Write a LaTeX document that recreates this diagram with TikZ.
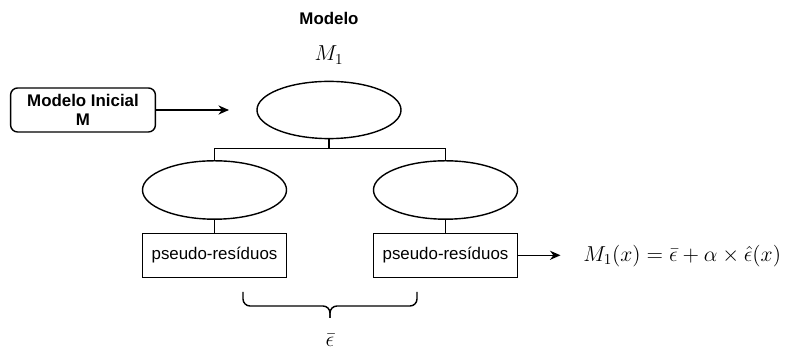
\RequirePackage{fix-cm}
\documentclass[tikz,border=0pt]{standalone}
\usepackage{fontspec}
\setmainfont{Liberation Sans}
\usetikzlibrary{arrows.meta, shapes.geometric, positioning, calc}
\tikzset{
  elipse/.style={draw, ellipse, line width=1pt, minimum width=3.6cm, minimum height=1.43cm},
  caixa/.style={draw, rectangle, line width=1pt, minimum width=3.6cm, minimum height=1.1cm, font=\fontsize{12}{14}\selectfont},
  seta/.style={line width=1pt, -{Stealth[length=7.5pt, width=6.5pt]}},
  liga/.style={line width=1pt},
  mat/.style={font=\fontsize{15.4}{18}\selectfont},
}

\begin{document}
\begin{tikzpicture}[x=0.025cm, y=-0.025cm]
  \useasboundingbox (0,0) rectangle (785,352);

  % titulo e modelo M_1
  \node[font=\fontsize{12}{14}\selectfont\bfseries] (titulo) at (329,18) {Modelo};
  \node[mat] (nome) at (329,55) {$M_1$};

  % modelo inicial
  \node[caixa, rounded corners=5pt, minimum width=3.62cm, align=center, font=\fontsize{12}{14}\selectfont\bfseries] (ini) at (83,110) {Modelo Inicial\\M};
  \coordinate (alvo) at (229,110);
  \draw[seta] (ini) -- (alvo);

  % arvore
  \node[elipse] (m1) at (329,110) {};
  \node[elipse, minimum height=1.46cm] (esq) at (214.5,190) {};
  \node[elipse, minimum height=1.46cm] (dir) at (445.5,190) {};
  \draw[liga] (m1.south) -- ++(0,9) -| (esq.north);
  \draw[liga] (m1.south) -- ++(0,9) -| (dir.north);

  % pseudo-residuos
  \node[caixa] (res1) at (214.5,255.3) {pseudo-resíduos};
  \node[caixa] (res2) at (445.5,255.3) {pseudo-resíduos};
  \draw[liga] (esq) -- (res1);
  \draw[liga] (dir) -- (res2);

  % formula final
  \node[mat, inner sep=0pt, anchor=west] (formula) at (583,256) {$M_1(x) = \bar{\epsilon} + \alpha \times \hat{\epsilon}(x)$};
  \draw[seta, shorten >=16pt] (res2.east) -- (res2.east -| formula.west);

  % chave com a media
  \coordinate (ch1) at (243,292);
  \coordinate (ch2) at (417,292);
  \coordinate (ponta) at (330,318);
  \draw[liga, rounded corners=5pt] (ch1) |- ($(ponta)+(0,-12)$) -- (ponta);
  \draw[liga, rounded corners=5pt] (ch2) |- ($(ponta)+(0,-12)$) -- (ponta);
  \node[mat] (media) at (330,340) {$\bar{\epsilon}$};
\end{tikzpicture}
\end{document}
